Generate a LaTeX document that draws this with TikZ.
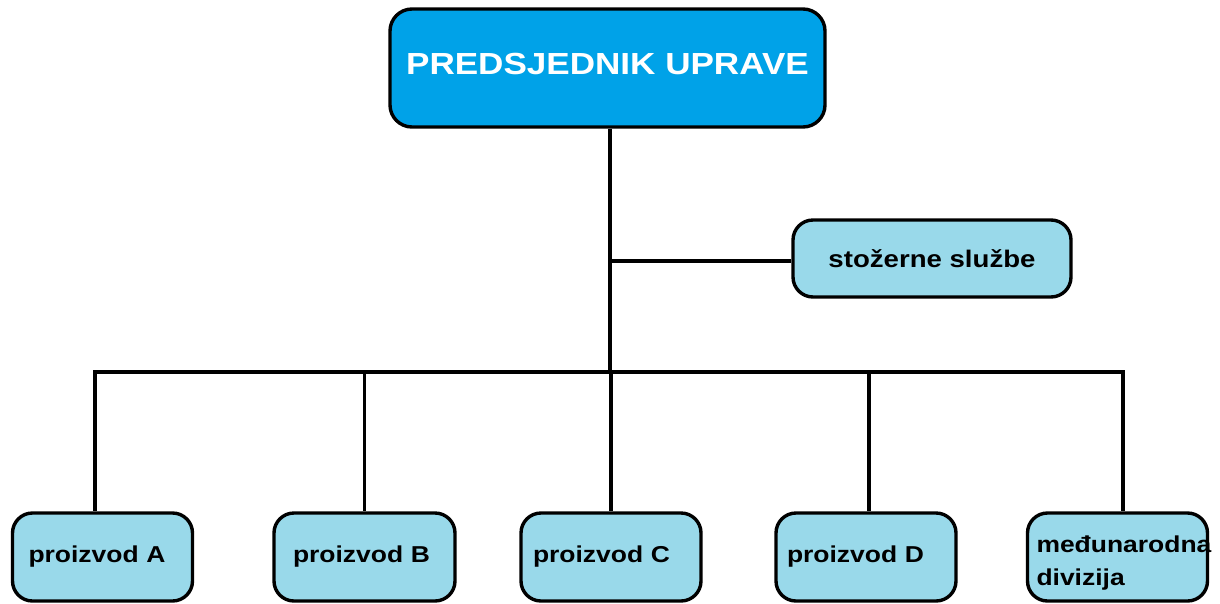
\documentclass[tikz,border=0pt]{standalone}
\usepackage{fontspec}
\setmainfont{Liberation Sans}
\newfontfamily\boxfont[FakeStretch=1.15]{Liberation Sans}
\definecolor{topblue}{HTML}{00A2E8}
\definecolor{lightblue}{HTML}{99D9EA}
\begin{document}
\begin{tikzpicture}[x=1pt,y=-1pt,
  conn/.style={line width=3.8pt, black},
  boxbase/.style={draw=black, line width=3.4pt, rectangle, rounded corners=22pt, inner ysep=0pt},
  headbox/.style={boxbase, fill=topblue, text=white, minimum width=435pt, minimum height=118pt,
     font=\boxfont\bfseries\fontsize{30.5}{32}\selectfont, text height=22pt, text depth=10pt},
  staffbox/.style={boxbase, fill=lightblue, rounded corners=20pt, minimum width=278pt, minimum height=77pt,
     font=\boxfont\bfseries\fontsize{24}{28}\selectfont},
  leafbox/.style={boxbase, fill=lightblue, rounded corners=20pt, minimum width=180pt, minimum height=88pt,
     font=\boxfont\bfseries\fontsize{23}{33}\selectfont, align=left}
]
\useasboundingbox (0,0) rectangle (1220,603);
\fill[white] (0,0) rectangle (1220,603);

\node[headbox] (top) at (607.5,68) {PREDSJEDNIK UPRAVE};
\node[staffbox] (staff) at (932,258.5) {stožerne službe};

\node[leafbox, inner xsep=16pt, text width=148pt] (pa) at (102.5,557) {\raisebox{2pt}{proizvod A}};
\node[leafbox, inner xsep=19pt, text width=143pt] (pb) at (364.5,557) {proizvod B};
\node[leafbox, inner xsep=12pt, text width=156pt] (pc) at (611,557) {proizvod C};
\node[leafbox, inner xsep=11pt, text width=158pt] (pd) at (866,557) {proizvod D};
\node[leafbox, inner xsep=9pt, text width=162pt] (pe) at (1117.5,557) {\rule{0pt}{29pt}međunarodna\\divizija};

\coordinate (bus) at (610,372);
\coordinate (sa) at ([xshift=-7.5pt]pa.north);
\coordinate (sb) at (pb.north);
\coordinate (sc) at (pc.north);
\coordinate (sd) at ([xshift=3pt]pd.north);
\coordinate (se) at ([xshift=5.5pt]pe.north);

\draw[conn] (bus |- top.south) -- (bus);
\draw[conn] (bus |- 0,261) -- (staff.west |- 0,261);
\draw[conn, line cap=rect] (sa |- bus) -- (se |- bus);
\draw[conn] (sa |- bus) -- (sa);
\draw[conn] (sb |- bus) -- (sb);
\draw[conn] (sc |- bus) -- (sc);
\draw[conn] (sd |- bus) -- (sd);
\draw[conn] (se |- bus) -- (se);
\end{tikzpicture}
\end{document}
